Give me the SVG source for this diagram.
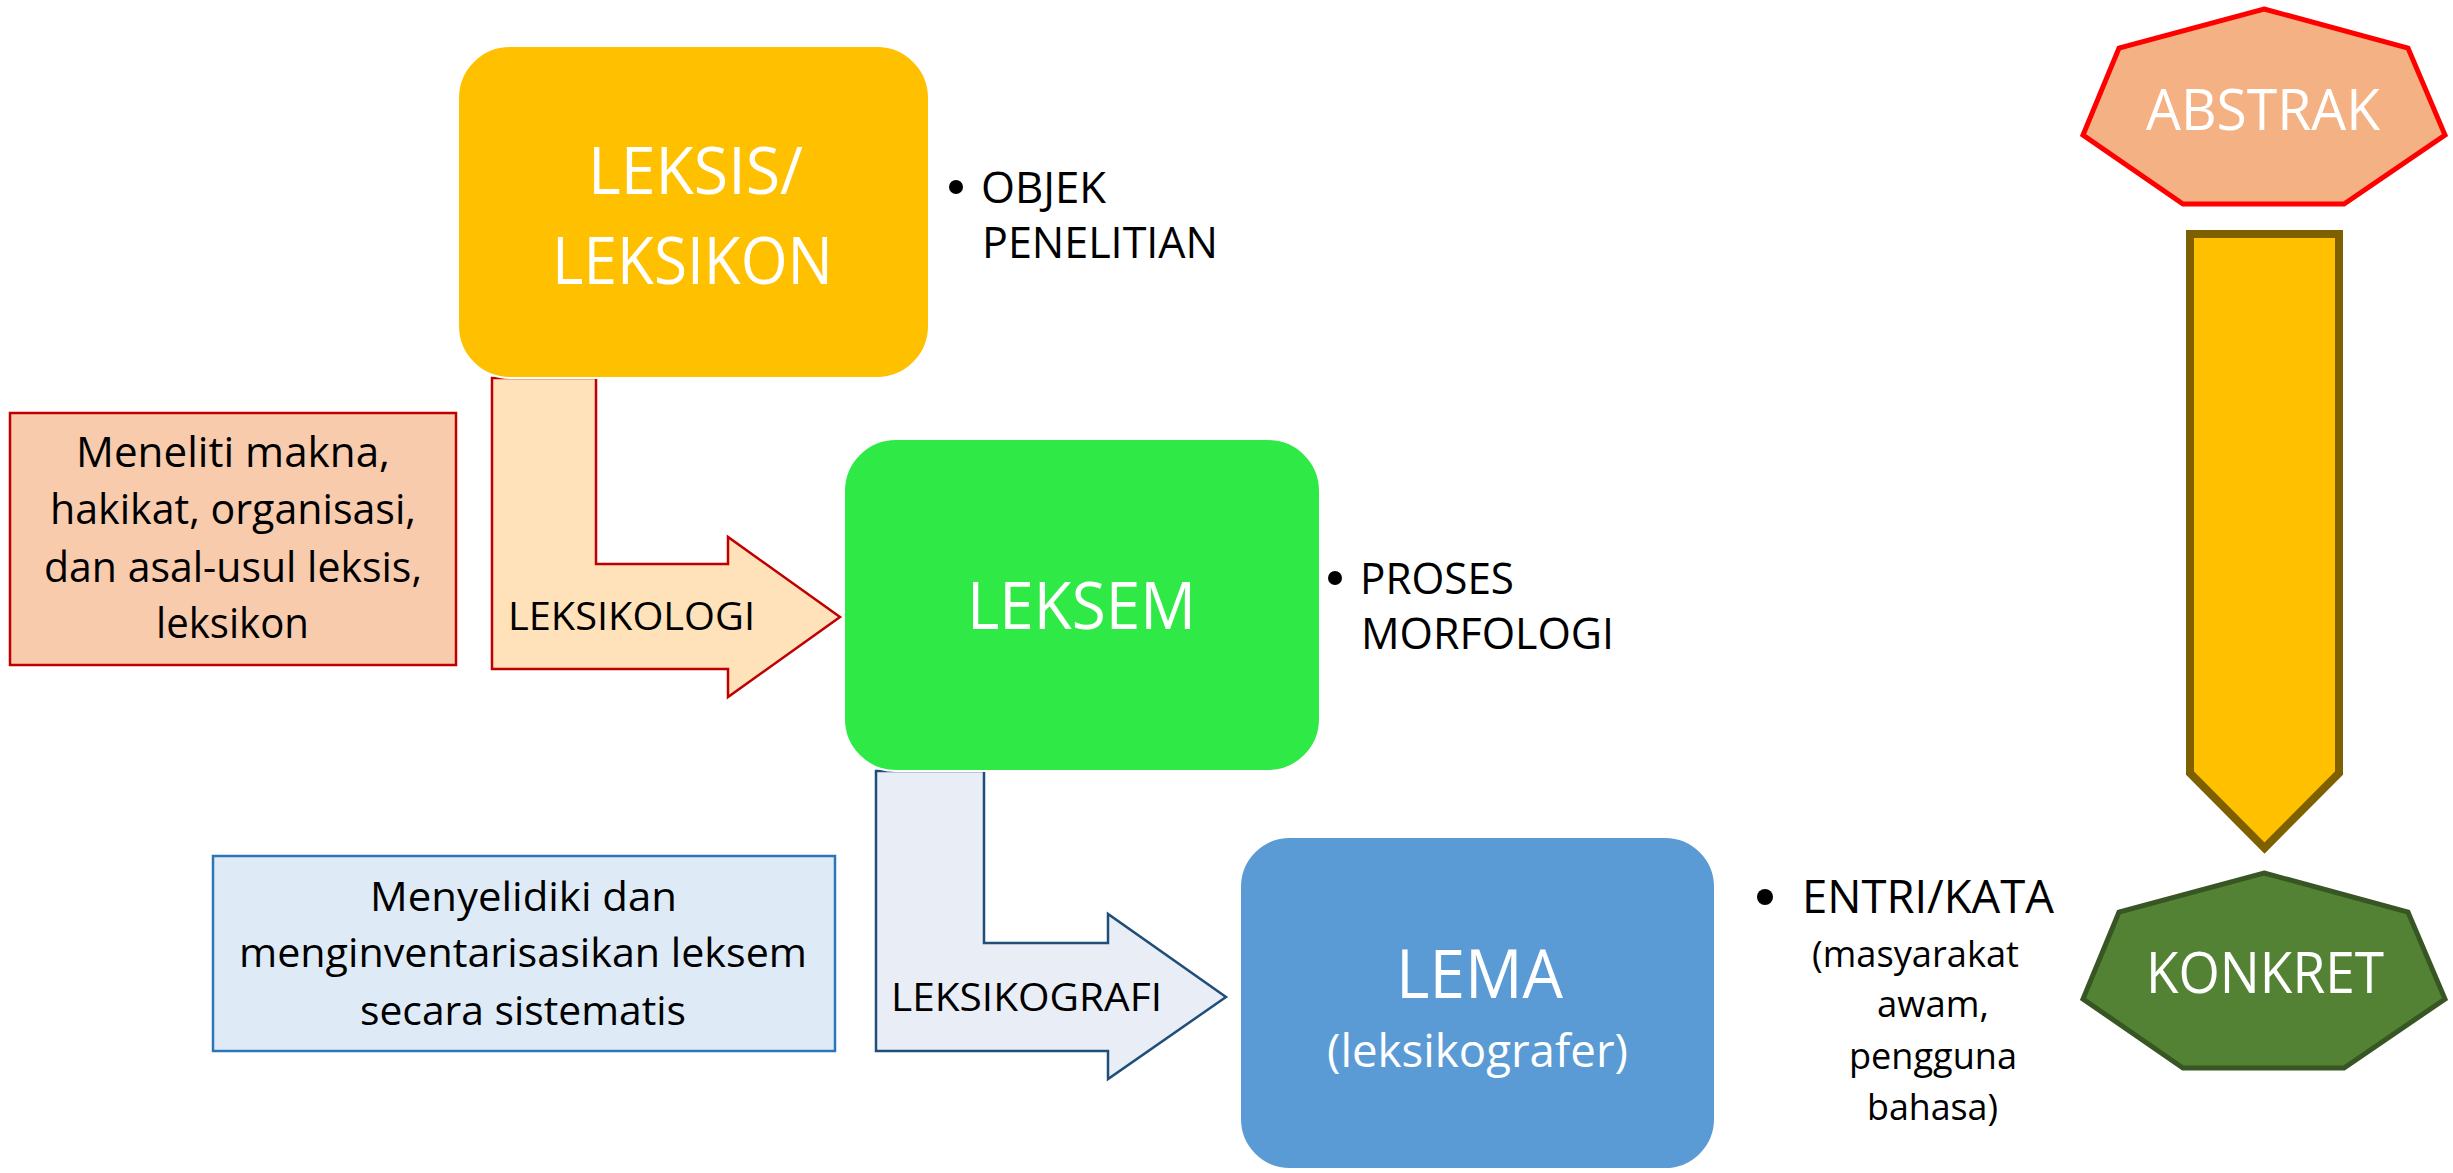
<svg xmlns="http://www.w3.org/2000/svg" width="2453" height="1173" viewBox="0 0 2453 1173">
<style>
text{font-family:"Open Sans","Liberation Sans",Arial,sans-serif;}
.w{fill:#FFFFFF;}
.k{fill:#000000;}
.big{font-size:66px;}
.bul{font-size:44px;}
.desc{font-size:42px;}
.lab{font-size:39px;}
.node{stroke:#FFFFFF;stroke-width:2;}
</style>
<rect x="0" y="0" width="2453" height="1173" fill="#FFFFFF"/>
<g id="connectors">
  <path id="arrow-leksikologi" d="M492,378 H596 V564 H728 V537 L840,617 L728,697 V669 H492 Z" fill="#FFE1BA" stroke="#C00000" stroke-width="2.5" stroke-linejoin="miter"/>
  <text class="k lab" x="508" y="630" textLength="247" lengthAdjust="spacingAndGlyphs">LEKSIKOLOGI</text>
  <path id="arrow-leksikografi" d="M876,771 H984 V943 H1108 V914 L1226,997 L1108,1079 V1051 H876 Z" fill="#E8EDF6" stroke="#1F4E79" stroke-width="2.5" stroke-linejoin="miter"/>
  <text class="k lab" x="891" y="1011" textLength="271" lengthAdjust="spacingAndGlyphs">LEKSIKOGRAFI</text>
  <path id="arrow-abstrak-konkret" d="M2190,234 H2339 V773 L2264.5,848 L2190,773 Z" fill="#FFC000" stroke="#7F6000" stroke-width="8" stroke-linejoin="miter"/>
</g>
<g id="node-leksis">
  <rect class="node" x="458" y="46" width="471" height="332" rx="52" ry="52" fill="#FFC000"/>
  <text class="w big" x="588" y="194" textLength="215" lengthAdjust="spacingAndGlyphs">LEKSIS/</text>
  <text class="w big" x="552" y="284" textLength="281" lengthAdjust="spacingAndGlyphs">LEKSIKON</text>
</g>
<g id="note-objek">
  <circle cx="956" cy="187" r="7" fill="#000000"/>
  <text class="k bul" x="981" y="203" textLength="125" lengthAdjust="spacingAndGlyphs">OBJEK</text>
  <text class="k bul" x="982" y="258" textLength="236" lengthAdjust="spacingAndGlyphs">PENELITIAN</text>
</g>
<g id="box-meneliti">
  <rect x="10" y="413" width="446" height="252" fill="#F8CBAD" stroke="#C00000" stroke-width="2.5"/>
  <text class="k desc" x="76" y="467" textLength="314" lengthAdjust="spacingAndGlyphs">Meneliti makna,</text>
  <text class="k desc" x="50" y="524" textLength="366" lengthAdjust="spacingAndGlyphs">hakikat, organisasi,</text>
  <text class="k desc" x="44" y="582" textLength="378" lengthAdjust="spacingAndGlyphs">dan asal-usul leksis,</text>
  <text class="k desc" x="156" y="638" textLength="153" lengthAdjust="spacingAndGlyphs">leksikon</text>
</g>
<g id="node-leksem">
  <rect class="node" x="844" y="439" width="476" height="332" rx="52" ry="52" fill="#2FEA46"/>
  <text class="w big" x="967" y="629" textLength="229" lengthAdjust="spacingAndGlyphs">LEKSEM</text>
</g>
<g id="note-proses">
  <circle cx="1335" cy="578" r="7" fill="#000000"/>
  <text class="k bul" x="1360" y="594" textLength="154" lengthAdjust="spacingAndGlyphs">PROSES</text>
  <text class="k bul" x="1361" y="649" textLength="253" lengthAdjust="spacingAndGlyphs">MORFOLOGI</text>
</g>
<g id="box-menyelidiki">
  <rect x="213" y="856" width="622" height="195" fill="#DEEBF7" stroke="#2E75B6" stroke-width="2.5"/>
  <text class="k desc" style="font-size:41px" x="370" y="911" textLength="307" lengthAdjust="spacingAndGlyphs">Menyelidiki dan</text>
  <text class="k desc" style="font-size:41px" x="239" y="967" textLength="568" lengthAdjust="spacingAndGlyphs">menginventarisasikan leksem</text>
  <text class="k desc" style="font-size:41px" x="360" y="1025" textLength="326" lengthAdjust="spacingAndGlyphs">secara sistematis</text>
</g>
<g id="node-lema">
  <rect class="node" x="1240" y="837" width="475" height="332" rx="50" ry="50" fill="#5B9BD5"/>
  <text class="w" style="font-size:67px" x="1396" y="998" textLength="167" lengthAdjust="spacingAndGlyphs">LEMA</text>
  <text class="w" style="font-size:46px" x="1327" y="1067" textLength="301" lengthAdjust="spacingAndGlyphs">(leksikografer)</text>
</g>
<g id="note-entri">
  <circle cx="1765" cy="897" r="8" fill="#000000"/>
  <text class="k" style="font-size:46px" x="1802" y="913" textLength="252" lengthAdjust="spacingAndGlyphs">ENTRI/KATA</text>
  <text class="k" style="font-size:37px" x="1812" y="967" textLength="207" lengthAdjust="spacingAndGlyphs">(masyarakat</text>
  <text class="k" style="font-size:37px" x="1877" y="1017" textLength="112" lengthAdjust="spacingAndGlyphs">awam,</text>
  <text class="k" style="font-size:37px" x="1849" y="1069" textLength="168" lengthAdjust="spacingAndGlyphs">pengguna</text>
  <text class="k" style="font-size:37px" x="1867" y="1120" textLength="131" lengthAdjust="spacingAndGlyphs">bahasa)</text>
</g>
<g id="node-abstrak">
  <polygon points="2264,9 2408,48 2445,135 2344,204 2183,204 2083,135 2119,48" fill="#F4B183" stroke="#FF0000" stroke-width="5" stroke-linejoin="miter"/>
  <text class="w" style="font-size:57px" x="2146" y="130" textLength="234" lengthAdjust="spacingAndGlyphs">ABSTRAK</text>
</g>
<g id="node-konkret">
  <polygon points="2264,873 2408,912 2445,999 2344,1068 2183,1068 2083,999 2119,912" fill="#548235" stroke="#375623" stroke-width="5" stroke-linejoin="miter"/>
  <text class="w" style="font-size:56px" x="2146" y="993" textLength="238" lengthAdjust="spacingAndGlyphs">KONKRET</text>
</g>
</svg>
